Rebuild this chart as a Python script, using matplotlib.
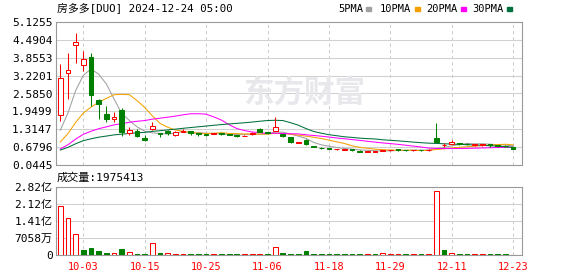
import numpy as np
import pandas as pd
import matplotlib
matplotlib.use('Agg')
import matplotlib.pyplot as plt
from matplotlib.patches import Rectangle

plt.rcParams['font.family'] = ['DejaVu Sans Mono', 'Noto Sans CJK SC']
plt.rcParams['font.size'] = 8

# trading days 09-30 .. 12-23 (thanksgiving closed)
dates = pd.bdate_range('2024-09-30', '2024-12-23')
dates = dates[dates != pd.Timestamp('2024-11-28')]
day_labels = list(dates.strftime('%m-%d'))

# closes before the window, only used so the MA lines start where they do
prev_close = [0.56, 0.55, 0.54, 0.52, 0.50, 0.49, 0.48, 0.47, 0.45, 0.44,
              0.42, 0.40, 0.39, 0.38, 0.37, 0.36, 0.35, 0.34, 0.33, 0.33,
              0.42, 0.44, 0.45, 0.45, 0.46, 0.33, 0.43, 1.10, 1.40]

open_ = [1.81, 3.32, 4.32, 3.59, 3.88, 2.35, 1.86, 1.68, 2.01, 1.18,
         1.26, 1.01, 1.33, 1.17, 1.26, 1.12, 1.22, 1.24, 1.17, 1.15,
         1.14, 1.16, 1.14, 1.10, 1.07, 1.13, 1.31, 1.20, 1.26, 1.14,
         1.03, 0.84, 0.92, 0.72, 0.66, 0.64, 0.60, 0.595, 0.60, 0.55,
         0.52, 0.52, 0.55, 0.57, 0.60, 0.58, 0.56, 0.58, 0.56, 1.00,
         0.75, 0.79, 0.82, 0.80, 0.74, 0.76, 0.78, 0.74, 0.72, 0.69]
high = [3.64, 4.02, 4.73, 4.10, 4.03, 2.38, 2.14, 1.93, 2.07, 1.40,
        1.31, 1.10, 1.57, 1.18, 1.29, 1.26, 1.33, 1.27, 1.17, 1.15,
        1.19, 1.18, 1.16, 1.12, 1.10, 1.20, 1.35, 1.22, 1.76, 1.16,
        1.05, 0.86, 0.96, 0.73, 0.67, 0.65, 0.63, 0.62, 0.61, 0.56,
        0.55, 0.55, 0.58, 0.59, 0.61, 0.59, 0.59, 0.59, 0.60, 1.53,
        0.82, 0.93, 0.84, 0.81, 0.79, 0.80, 0.80, 0.75, 0.74, 0.70]
low = [1.60, 2.40, 3.68, 3.38, 2.14, 1.69, 1.57, 1.57, 1.06, 1.12,
       1.04, 0.91, 1.28, 1.03, 1.12, 1.07, 1.22, 1.12, 1.09, 1.08,
       1.13, 1.12, 1.10, 1.05, 1.06, 1.12, 1.20, 1.16, 1.24, 1.05,
       0.84, 0.83, 0.77, 0.67, 0.62, 0.60, 0.59, 0.58, 0.55, 0.50,
       0.51, 0.51, 0.54, 0.55, 0.55, 0.55, 0.55, 0.55, 0.55, 0.86,
       0.70, 0.79, 0.74, 0.76, 0.72, 0.73, 0.70, 0.70, 0.70, 0.62]
close = [3.14, 3.41, 4.40, 3.80, 2.54, 2.20, 1.69, 1.74, 1.22, 1.29,
         1.06, 0.92, 1.43, 1.14, 1.17, 1.22, 1.26, 1.17, 1.13, 1.10,
         1.18, 1.15, 1.12, 1.08, 1.09, 1.19, 1.22, 1.18, 1.38, 1.08,
         0.87, 0.84, 0.78, 0.68, 0.64, 0.62, 0.61, 0.605, 0.56, 0.52,
         0.54, 0.53, 0.57, 0.58, 0.59, 0.56, 0.58, 0.56, 0.59, 0.86,
         0.77, 0.85, 0.80, 0.78, 0.78, 0.79, 0.76, 0.72, 0.71, 0.63]
# volume in 亿 shares
volume = [2.01, 1.52, 0.85, 0.21, 0.29, 0.165, 0.083, 0.083, 0.25, 0.11,
          0.04, 0.04, 0.48, 0.08, 0.08, 0.04, 0.04, 0.04, 0.035, 0.035,
          0.035, 0.03, 0.03, 0.03, 0.03, 0.03, 0.03, 0.04, 0.33, 0.09,
          0.04, 0.04, 0.165, 0.04, 0.03, 0.03, 0.03, 0.03, 0.03, 0.03,
          0.03, 0.03, 0.08, 0.04, 0.03, 0.03, 0.03, 0.03, 0.03, 2.64,
          0.21, 0.085, 0.03, 0.03, 0.03, 0.03, 0.03, 0.03, 0.03, 0.01975413]

ma_periods = [5, 10, 20, 30]
ma_colors = ['#a0a0a0', '#f5a000', '#ff00ff', '#00703c']
price_ticks = [0.0445, 0.6796, 1.3147, 1.9499, 2.5850, 3.2201, 3.8553, 4.4904, 5.1255]
vol_ticks = [0, 0.7058, 1.4116, 2.1174, 2.8232]
vol_tick_labels = ['0', '7058万', '1.41亿', '2.12亿', '2.82亿']

RED = '#ff0000'
GREEN = '#008000'
W, H = 578, 276

fig = plt.figure(figsize=(W / 100, H / 100), dpi=100)
ax = fig.add_axes([56 / W, 1 - 165 / H, 466 / W, 143 / H])
axv = fig.add_axes([56 / W, 1 - 255 / H, 466 / W, 68.3 / H])

x = np.arange(len(close))
o = np.array(open_); c = np.array(close); hi = np.array(high); lo = np.array(low)
up = c >= o

# watermark
fig.text(243 / W, 1 - 93 / H, '东方财富', fontsize=22, fontweight='bold',
         color='#e8e8ec', family=['Noto Sans CJK SC'], va='center', zorder=0)

# moving averages
full = pd.Series(prev_close + close)
for n, col in zip(ma_periods, ma_colors):
    ma = full.rolling(n).mean().iloc[len(prev_close):].values
    ax.plot(x, ma, color=col, lw=0.75, zorder=2)

# candles
cols = np.where(up, RED, GREEN)
ax.vlines(x, lo, hi, colors=cols, lw=0.75, zorder=3)
body = np.maximum(np.abs(c - o), 0.015)
ax.bar(x, body, bottom=np.minimum(o, c), width=0.62,
       color=np.where(up, 'white', GREEN), edgecolor=cols, lw=0.75, zorder=4)

# volume, coloured by change from previous close
prev = np.r_[prev_close[-1], c[:-1]]
vup = c >= prev
axv.bar(x, volume, width=0.62, color=np.where(vup, 'white', GREEN),
        edgecolor=np.where(vup, RED, GREEN), lw=0.75, zorder=3)

tick_idx = list(range(3, len(close), 8))
for a in (ax, axv):
    a.patch.set_alpha(0)
    a.set_xlim(-0.56, 60.16)
    a.set_xticks(tick_idx)
    a.grid(axis='x', color='#cccccc', lw=0.75, ls=(0, (3, 3)))
    a.grid(axis='y', color='#d0d0d0', lw=0.75)
    a.set_axisbelow(True)
    for s in a.spines.values():
        s.set_color('#999999')
        s.set_linewidth(0.8)
    a.tick_params(length=0, pad=2.5, labelsize=8)

ax.set_ylim(price_ticks[0], price_ticks[-1])
ax.set_yticks(price_ticks)
ax.set_yticklabels(['%.4f' % t for t in price_ticks])
ax.tick_params(labelbottom=False)

axv.set_ylim(0, vol_ticks[-1])
axv.set_yticks(vol_ticks)
axv.set_yticklabels(vol_tick_labels)
axv.set_xticklabels([day_labels[i] for i in tick_idx], color=RED)
axv.tick_params(axis='x', pad=5, labelsize=7.4)

fig.text(57 / W, 1 - 9 / H, '房多多[DUO] 2024-12-24 05:00', fontsize=7.8, va='center')
fig.text(57 / W, 1 - 178 / H, '成交量:%d' % round(volume[-1] * 1e8), fontsize=8, va='center')

# legend
leg_x = [338, 380, 426, 472]
for n, col, lx in zip(ma_periods, ma_colors, leg_x):
    label = '%dPMA' % n
    fig.text(lx / W, 1 - 9 / H, label, fontsize=7.5, va='center')
    mx = lx + 6.3 * len(label) + 3
    fig.add_artist(Rectangle((mx / W, 1 - 10.5 / H), 5 / W, 3 / H,
                             transform=fig.transFigure, color=col))

fig.savefig('out.png', dpi=100)
